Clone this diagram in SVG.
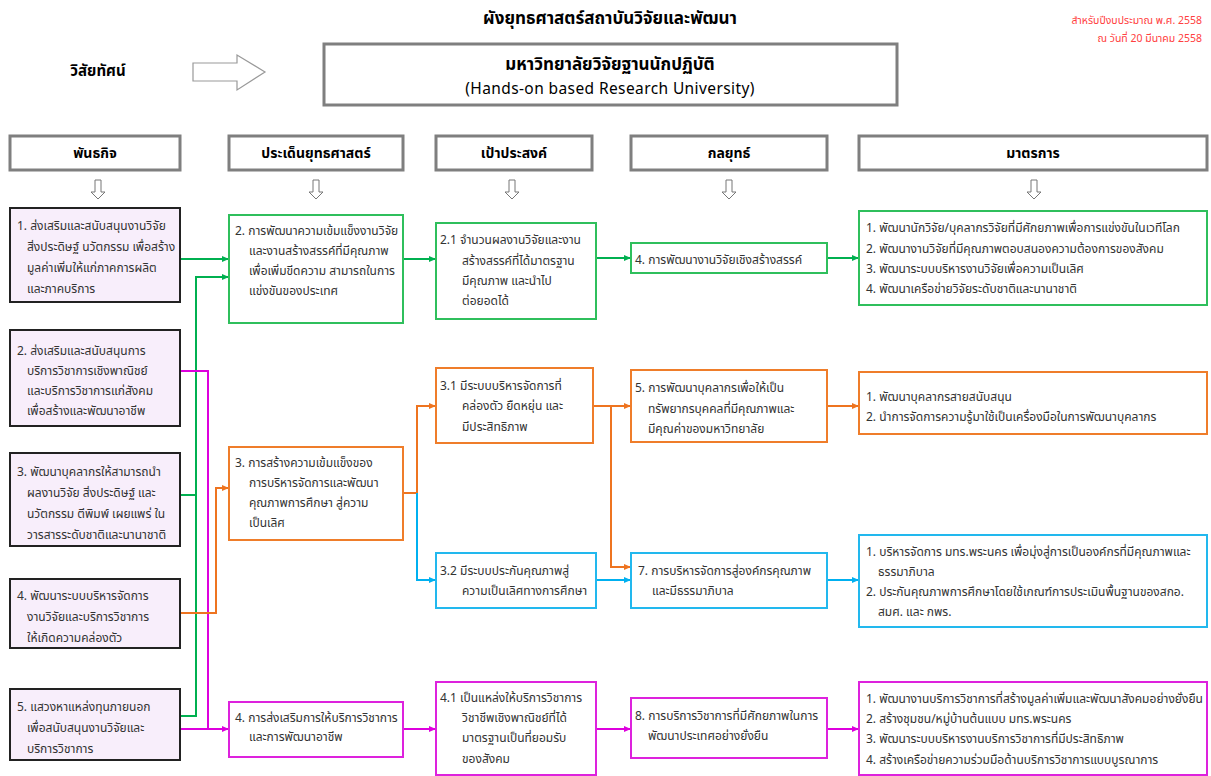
<svg xmlns="http://www.w3.org/2000/svg" width="1211" height="776" viewBox="0 0 1211 776">
<style>
text{font-family:"Noto Sans Thai","Tahoma","Noto Sans","DejaVu Sans",sans-serif;fill:#333}
.t{font-size:12px}
.h{font-size:14px;font-weight:bold;fill:#000}
.hd{fill:#fff;stroke:#7f7f7f;stroke-width:3}
.m{fill:#f8eefb;stroke:#222;stroke-width:2}
.bg{fill:#fff;stroke:#2fbf5c;stroke-width:2}
.bo{fill:#fff;stroke:#ef7d2a;stroke-width:2}
.bb{fill:#fff;stroke:#22b8ee;stroke-width:2}
.bm{fill:#fff;stroke:#dd22dd;stroke-width:2}
.cg{fill:none;stroke:#00b050;stroke-width:2}
.co{fill:none;stroke:#ee7420;stroke-width:2}
.cb{fill:none;stroke:#00b0f0;stroke-width:2}
.cm{fill:none;stroke:#dd00dd;stroke-width:2}
.da{fill:#fff;stroke:#777;stroke-width:1}
</style>
<defs>
<marker id="ag" markerUnits="userSpaceOnUse" markerWidth="8" markerHeight="8" refX="7" refY="4" orient="auto"><path d="M0,1 L7,4 L0,7 z" fill="#00b050"/></marker>
<marker id="ao" markerUnits="userSpaceOnUse" markerWidth="8" markerHeight="8" refX="7" refY="4" orient="auto"><path d="M0,1 L7,4 L0,7 z" fill="#ee7420"/></marker>
<marker id="ab" markerUnits="userSpaceOnUse" markerWidth="8" markerHeight="8" refX="7" refY="4" orient="auto"><path d="M0,1 L7,4 L0,7 z" fill="#00b0f0"/></marker>
<marker id="am" markerUnits="userSpaceOnUse" markerWidth="8" markerHeight="8" refX="7" refY="4" orient="auto"><path d="M0,1 L7,4 L0,7 z" fill="#dd00dd"/></marker>
<path id="down" d="M-3,0 H3 V12 H7 L0,19 L-7,12 H-3 Z"/>
</defs>

<g id="title">
<text x="610" y="24" text-anchor="middle" style="font-size:17px;font-weight:bold;fill:#000">ผังยุทธศาสตร์สถาบันวิจัยและพัฒนา</text>
<text x="1202" y="24" text-anchor="end" style="font-size:10.5px;fill:#ff4040">สำหรับปีงบประมาณ พ.ศ. 2558</text>
<text x="1202" y="42" text-anchor="end" style="font-size:10.5px;fill:#ff4040">ณ วันที่ 20 มีนาคม  2558</text>
</g>

<g id="vision">
<text x="98" y="76" text-anchor="middle" class="h" style="font-size:15px">วิสัยทัศน์</text>
<path d="M193,63 H237 V55 L265,72 L237,90 V81 H193 Z" fill="#fff" stroke="#999" stroke-width="1.2"/>
<rect x="324" y="44" width="573" height="61" fill="#fff" stroke="#7f7f7f" stroke-width="3"/>
<text x="610" y="70" text-anchor="middle" style="font-size:17px;font-weight:bold;fill:#000">มหาวิทยาลัยวิจัยฐานนักปฏิบัติ</text>
<text x="610" y="94" text-anchor="middle" style="font-size:15.5px;fill:#000;letter-spacing:0.4px">(Hands-on based Research University)</text>
</g>

<g id="headers">
<rect class="hd" x="10" y="136" width="170" height="34"/>
<text class="h" x="95" y="158" text-anchor="middle">พันธกิจ</text>
<rect class="hd" x="229" y="136" width="174" height="34"/>
<text class="h" x="316" y="158" text-anchor="middle">ประเด็นยุทธศาสตร์</text>
<rect class="hd" x="436" y="136" width="156" height="34"/>
<text class="h" x="514" y="158" text-anchor="middle">เป้าประสงค์</text>
<rect class="hd" x="631" y="136" width="196" height="34"/>
<text class="h" x="729" y="158" text-anchor="middle">กลยุทธ์</text>
<rect class="hd" x="859" y="136" width="348" height="34"/>
<text class="h" x="1033" y="158" text-anchor="middle">มาตรการ</text>
<use href="#down" x="98" y="180" class="da"/>
<use href="#down" x="316" y="180" class="da"/>
<use href="#down" x="512" y="180" class="da"/>
<use href="#down" x="729" y="180" class="da"/>
<use href="#down" x="1034" y="180" class="da"/>
</g>

<g id="connectors">
<path class="cg" d="M180,259 H229" marker-end="url(#ag)"/>
<path class="cg" d="M180,716 H196 V277 H229" marker-end="url(#ag)"/>
<path class="cg" d="M180,495 H196"/>
<path class="cm" d="M180,371 H208 V729 H229" marker-end="url(#am)"/>
<path class="cm" d="M180,729 H208"/>
<path class="co" d="M180,613 H216 V488 H229" marker-end="url(#ao)"/>
<path class="cg" d="M403,259 H436" marker-end="url(#ag)"/>
<path class="co" d="M403,493 H417 V406 H436" marker-end="url(#ao)"/>
<path class="cb" d="M417,493 V580 H436" marker-end="url(#ab)"/>
<path class="cm" d="M403,729 H436" marker-end="url(#am)"/>
<path class="cg" d="M596,258 H631" marker-end="url(#ag)"/>
<path class="co" d="M593,406 H631" marker-end="url(#ao)"/>
<path class="co" d="M611,406 V567 H631" marker-end="url(#ao)"/>
<path class="cb" d="M596,580 H631" marker-end="url(#ab)"/>
<path class="cm" d="M596,729 H631" marker-end="url(#am)"/>
<path class="cg" d="M827,258 H859" marker-end="url(#ag)"/>
<path class="co" d="M827,406 H859" marker-end="url(#ao)"/>
<path class="cb" d="M827,580 H859" marker-end="url(#ab)"/>
<path class="cm" d="M827,729 H859" marker-end="url(#am)"/>
</g>

<g id="mission1"><rect class="m" x="10" y="208" width="170" height="94"/>
<text class="t" x="17" y="230">1. ส่งเสริมและสนับสนุนงานวิจัย</text>
<text class="t" x="27" y="251">สิ่งประดิษฐ์ นวัตกรรม เพื่อสร้าง</text>
<text class="t" x="27" y="272">มูลค่าเพิ่มให้แก่ภาคการผลิต</text>
<text class="t" x="27" y="293">และภาคบริการ</text></g>

<g id="mission2"><rect class="m" x="10" y="330" width="170" height="96"/>
<text class="t" x="17" y="355">2. ส่งเสริมและสนับสนุนการ</text>
<text class="t" x="27" y="375">บริการวิชาการเชิงพาณิชย์</text>
<text class="t" x="27" y="395">และบริการวิชาการแก่สังคม</text>
<text class="t" x="27" y="415">เพื่อสร้างและพัฒนาอาชีพ</text></g>

<g id="mission3"><rect class="m" x="10" y="453" width="170" height="93"/>
<text class="t" x="17" y="476">3. พัฒนาบุคลากรให้สามารถนำ</text>
<text class="t" x="27" y="497">ผลงานวิจัย สิ่งประดิษฐ์ และ</text>
<text class="t" x="27" y="518">นวัตกรรม ตีพิมพ์ เผยแพร่ ใน</text>
<text class="t" x="27" y="539">วารสารระดับชาติและนานาชาติ</text></g>

<g id="mission4"><rect class="m" x="10" y="579" width="170" height="69"/>
<text class="t" x="17" y="600">4. พัฒนาระบบบริหารจัดการ</text>
<text class="t" x="27" y="621">งานวิจัยและบริการวิชาการ</text>
<text class="t" x="27" y="642">ให้เกิดความคล่องตัว</text></g>

<g id="mission5"><rect class="m" x="10" y="689" width="170" height="71"/>
<text class="t" x="17" y="711">5. แสวงหาแหล่งทุนภายนอก</text>
<text class="t" x="27" y="732">เพื่อสนับสนุนงานวิจัยและ</text>
<text class="t" x="27" y="753">บริการวิชาการ</text></g>

<g id="issue2"><rect class="bg" x="229" y="215" width="174" height="108"/>
<text class="t" x="235" y="235">2. การพัฒนาความเข้มแข็งงานวิจัย</text>
<text class="t" x="249" y="255">และงานสร้างสรรค์ที่มีคุณภาพ</text>
<text class="t" x="249" y="275">เพื่อเพิ่มขีดความ สามารถในการ</text>
<text class="t" x="249" y="295">แข่งขันของประเทศ</text></g>

<g id="issue3"><rect class="bo" x="229" y="447" width="174" height="93"/>
<text class="t" x="235" y="467">3. การสร้างความเข้มแข็งของ</text>
<text class="t" x="249" y="487">การบริหารจัดการและพัฒนา</text>
<text class="t" x="249" y="507">คุณภาพการศึกษา สู่ความ</text>
<text class="t" x="249" y="527">เป็นเลิศ</text></g>

<g id="issue4"><rect class="bm" x="229" y="702" width="174" height="55"/>
<text class="t" x="235" y="722">4. การส่งเสริมการให้บริการวิชาการ</text>
<text class="t" x="249" y="741">และการพัฒนาอาชีพ</text></g>

<g id="goal21"><rect class="bg" x="436" y="223" width="160" height="96"/>
<text class="t" x="440" y="244">2.1 จำนวนผลงานวิจัยและงาน</text>
<text class="t" x="462" y="265">สร้างสรรค์ที่ได้มาตรฐาน</text>
<text class="t" x="462" y="285">มีคุณภาพ และนำไป</text>
<text class="t" x="462" y="305">ต่อยอดได้</text></g>

<g id="goal31"><rect class="bo" x="436" y="368" width="157" height="75"/>
<text class="t" x="440" y="390">3.1 มีระบบบริหารจัดการที่</text>
<text class="t" x="462" y="410">คล่องตัว ยืดหยุ่น และ</text>
<text class="t" x="462" y="431">มีประสิทธิภาพ</text></g>

<g id="goal32"><rect class="bb" x="436" y="553" width="160" height="55"/>
<text class="t" x="440" y="575">3.2 มีระบบประกันคุณภาพสู่</text>
<text class="t" x="462" y="595">ความเป็นเลิศทางการศึกษา</text></g>

<g id="goal41"><rect class="bm" x="436" y="682" width="160" height="93"/>
<text class="t" x="440" y="702">4.1 เป็นแหล่งให้บริการวิชาการ</text>
<text class="t" x="462" y="722">วิชาชีพเชิงพาณิชย์ที่ได้</text>
<text class="t" x="462" y="742">มาตรฐานเป็นที่ยอมรับ</text>
<text class="t" x="462" y="763">ของสังคม</text></g>

<g id="strat4"><rect class="bg" x="631" y="243" width="196" height="30"/>
<text class="t" x="635" y="264">4. การพัฒนางานวิจัยเชิงสร้างสรรค์</text></g>

<g id="strat5"><rect class="bo" x="631" y="370" width="196" height="72"/>
<text class="t" x="635" y="392">5. การพัฒนาบุคลากรเพื่อให้เป็น</text>
<text class="t" x="648" y="413">ทรัพยากรบุคคลที่มีคุณภาพและ</text>
<text class="t" x="648" y="433">มีคุณค่าของมหาวิทยาลัย</text></g>

<g id="strat7"><rect class="bb" x="631" y="553" width="196" height="55"/>
<text class="t" x="638" y="575">7. การบริหารจัดการสู่องค์กรคุณภาพ</text>
<text class="t" x="652" y="595">และมีธรรมาภิบาล</text></g>

<g id="strat8"><rect class="bm" x="631" y="698" width="196" height="60"/>
<text class="t" x="635" y="720">8. การบริการวิชาการที่มีศักยภาพในการ</text>
<text class="t" x="648" y="740">พัฒนาประเทศอย่างยั่งยืน</text></g>

<g id="measure-green"><rect class="bg" x="859" y="211" width="348" height="94"/>
<text class="t" x="866" y="232">1. พัฒนานักวิจัย/บุคลากรวิจัยที่มีศักยภาพเพื่อการแข่งขันในเวทีโลก</text>
<text class="t" x="866" y="253">2. พัฒนางานวิจัยที่มีคุณภาพตอบสนองความต้องการของสังคม</text>
<text class="t" x="866" y="273">3. พัฒนาระบบบริหารงานวิจัยเพื่อความเป็นเลิศ</text>
<text class="t" x="866" y="293">4. พัฒนาเครือข่ายวิจัยระดับชาติและนานาชาติ</text></g>

<g id="measure-orange"><rect class="bo" x="859" y="372" width="348" height="62"/>
<text class="t" x="866" y="401">1. พัฒนาบุคลากรสายสนับสนุน</text>
<text class="t" x="866" y="421">2. นำการจัดการความรู้มาใช้เป็นเครื่องมือในการพัฒนาบุคลากร</text></g>

<g id="measure-blue"><rect class="bb" x="859" y="535" width="348" height="92"/>
<text class="t" x="866" y="556">1. บริหารจัดการ มทร.พระนคร เพื่อมุ่งสู่การเป็นองค์กรที่มีคุณภาพและ</text>
<text class="t" x="878" y="576">ธรรมาภิบาล</text>
<text class="t" x="866" y="596">2. ประกันคุณภาพการศึกษาโดยใช้เกณฑ์การประเมินพื้นฐานของสกอ.</text>
<text class="t" x="878" y="616">สมศ. และ กพร.</text></g>

<g id="measure-magenta"><rect class="bm" x="859" y="682" width="348" height="93"/>
<text class="t" x="866" y="703">1. พัฒนางานบริการวิชาการที่สร้างมูลค่าเพิ่มและพัฒนาสังคมอย่างยั่งยืน</text>
<text class="t" x="866" y="723">2. สร้างชุมชน/หมู่บ้านต้นแบบ มทร.พระนคร</text>
<text class="t" x="866" y="743">3. พัฒนาระบบบริหารงานบริการวิชาการที่มีประสิทธิภาพ</text>
<text class="t" x="866" y="764">4. สร้างเครือข่ายความร่วมมือด้านบริการวิชาการแบบบูรณาการ</text></g>
</svg>
